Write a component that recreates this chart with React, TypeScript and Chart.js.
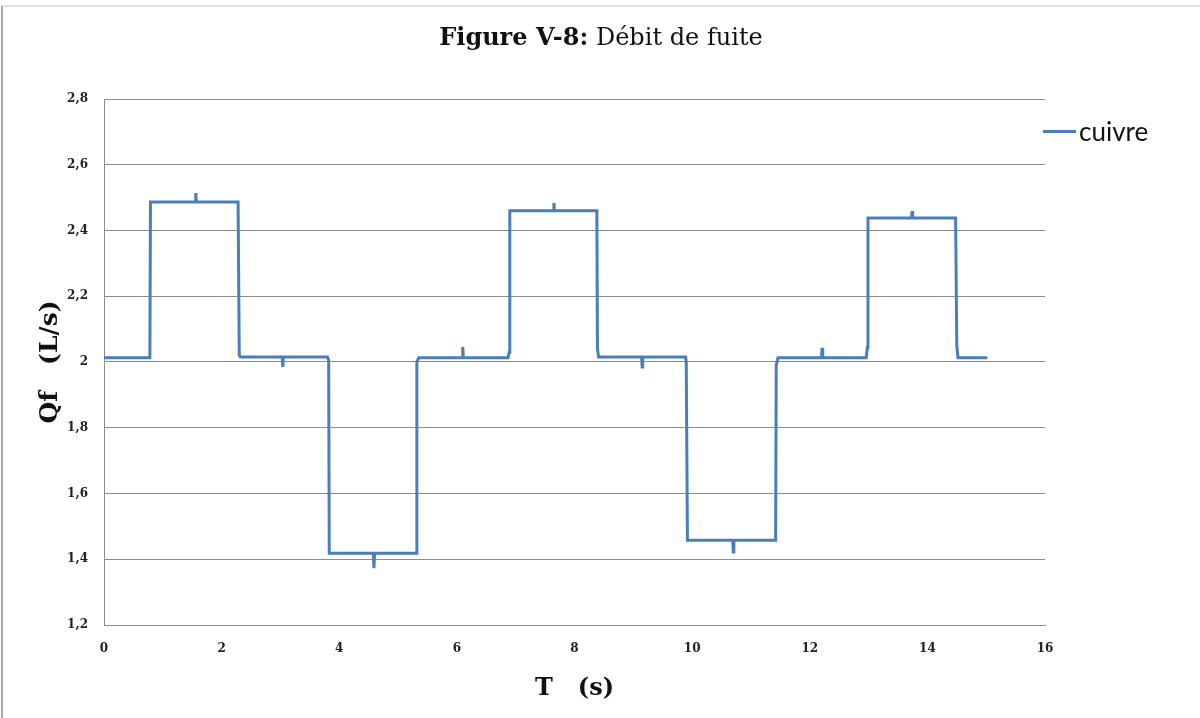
import React, { useEffect, useRef } from 'react';
import { Chart, registerables } from 'chart.js';

Chart.register(...registerables);

const SERIES_LABEL = 'cuivre';
const TITLE_BOLD = 'Figure V-8:';
const TITLE_REST = ' Débit de fuite';
const X_TITLE = 'T   (s)';
const Y_TITLE = 'Qf   (L/s)';

const X_MIN = 0;
const X_MAX = 16;
const X_STEP = 2;
const Y_MIN = 1.2;
const Y_MAX = 2.8;
const Y_STEP = 0.2;

const timeS = [
  0, 0.78, 0.79, 1.55, 1.56, 1.57, 2.28, 2.3, 2.32,
  3.03, 3.04, 3.05, 3.8, 3.82, 3.83, 4.58, 4.59, 4.6, 5.31, 5.32, 5.35,
  6.09, 6.1, 6.11, 6.87, 6.89, 6.9, 7.64, 7.65, 7.66, 8.38, 8.39, 8.41,
  9.14, 9.15, 9.16, 9.89, 9.9, 9.92, 10.69, 10.7, 10.71, 11.42, 11.43, 11.46,
  12.2, 12.21, 12.22, 12.96, 12.98, 12.99, 13.73, 13.74, 13.75, 14.48, 14.5, 14.52,
  15.02,
];

const flowLs = [
  2.013, 2.013, 2.487, 2.487, 2.514, 2.487, 2.487, 2.02, 2.015,
  2.015, 1.985, 2.015, 2.015, 2.005, 1.418, 1.418, 1.373, 1.418, 1.418, 2.0, 2.013,
  2.013, 2.046, 2.013, 2.013, 2.03, 2.46, 2.46, 2.484, 2.46, 2.46, 2.04, 2.015,
  2.015, 1.985, 2.015, 2.015, 2.0, 1.458, 1.458, 1.422, 1.458, 1.458, 1.99, 2.013,
  2.013, 2.043, 2.013, 2.013, 2.045, 2.438, 2.438, 2.459, 2.438, 2.438, 2.05, 2.013,
  2.013,
];

const LINE_COLOR = '#4a7ebb';
const GRID_COLOR = '#8c8c8c';
const SERIF = "'DejaVu Serif', 'Liberation Serif', serif";

export default function App() {
  const ref = useRef<HTMLCanvasElement>(null);

  useEffect(() => {
    if (!ref.current) return;
    const tickFont = { family: SERIF, size: 12, weight: 'bold' as const };
    const chart = new Chart(ref.current, {
      type: 'line',
      data: {
        datasets: [
          {
            label: SERIES_LABEL,
            data: timeS.map((t, i) => ({ x: t, y: flowLs[i] })),
            borderColor: LINE_COLOR,
            backgroundColor: LINE_COLOR,
            borderWidth: 3,
            pointRadius: 0,
            tension: 0,
            fill: false,
          },
        ],
      },
      options: {
        animation: false,
        responsive: false,
        devicePixelRatio: 1,
        layout: { padding: { top: 99, right: 155, bottom: 0, left: 0 } },
        plugins: {
          legend: { display: false },
          title: { display: false },
          tooltip: { enabled: false },
        },
        scales: {
          x: {
            type: 'linear',
            min: X_MIN,
            max: X_MAX,
            ticks: { stepSize: X_STEP, padding: 17, font: tickFont, color: '#222' },
            grid: { drawOnChartArea: false, drawTicks: false },
            border: { color: GRID_COLOR, width: 1 },
            title: {
              display: true,
              text: X_TITLE,
              color: '#111',
              font: { family: SERIF, size: 24, weight: 'bold' },
              padding: { top: 0, bottom: 15 },
            },
            afterFit: (s: any) => {
              s.height = 93;
            },
          },
          y: {
            type: 'linear',
            min: Y_MIN,
            max: Y_MAX,
            ticks: {
              stepSize: Y_STEP,
              padding: 16,
              font: tickFont,
              color: '#222',
              callback: (v: any) => String(Math.round(Number(v) * 10) / 10).replace('.', ','),
            },
            grid: { color: GRID_COLOR, drawTicks: false, lineWidth: 1 },
            border: { color: GRID_COLOR, width: 1 },
            title: {
              display: true,
              text: Y_TITLE,
              color: '#111',
              font: { family: SERIF, size: 25, weight: 'bold' },
              padding: { top: 35, bottom: 0 },
            },
            afterFit: (s: any) => {
              s.width = 104;
            },
          },
        },
      },
    });
    return () => chart.destroy();
  }, []);

  return (
    <div
      style={{
        position: 'fixed',
        left: 0,
        top: 0,
        width: 1200,
        height: 718,
        background: '#fff',
        overflow: 'hidden',
      }}
    >
      <div
        style={{
          position: 'absolute',
          left: 1,
          top: 5,
          right: -10,
          bottom: -10,
          borderLeft: '2px solid #a6a6a6',
          borderTop: '2px solid #e0e0e0',
        }}
      />
      <canvas
        ref={ref}
        width={1200}
        height={718}
        style={{ position: 'absolute', left: 0, top: 0 }}
      />
      <div
        style={{
          position: 'absolute',
          left: 0,
          width: 1202,
          top: 20,
          textAlign: 'center',
          fontFamily: SERIF,
          fontSize: 24,
          lineHeight: '34px',
          color: '#111',
          whiteSpace: 'pre',
        }}
      >
        <b>{TITLE_BOLD}</b>
        {TITLE_REST}
      </div>
      <div
        style={{
          position: 'absolute',
          left: 1043,
          top: 114,
          display: 'flex',
          alignItems: 'center',
          fontFamily: "Lato, 'Open Sans', sans-serif",
          fontSize: 26,
          lineHeight: '34px',
          color: '#111',
        }}
      >
        <span
          style={{ display: 'inline-block', width: 33, height: 3, background: LINE_COLOR, marginRight: 3 }}
        />
        <span>{SERIES_LABEL}</span>
      </div>
    </div>
  );
}
